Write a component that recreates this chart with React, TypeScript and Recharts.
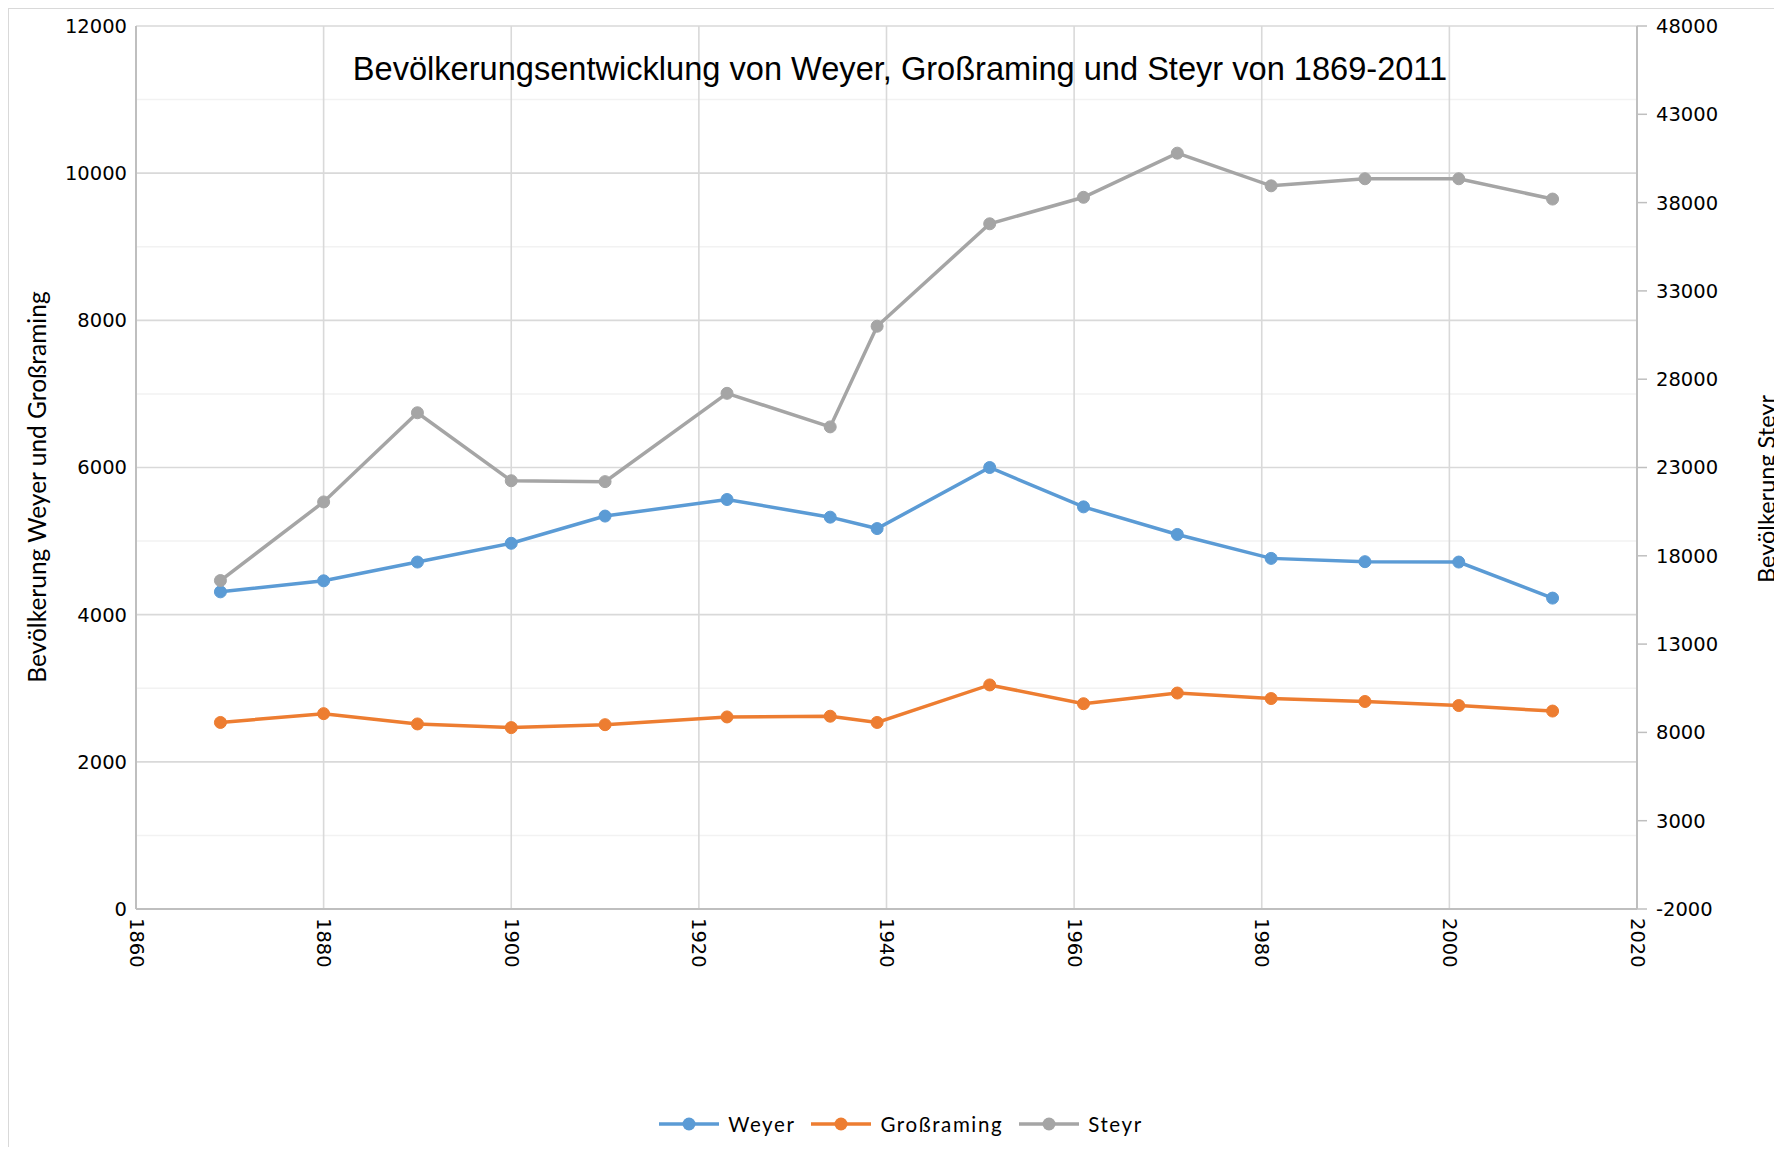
import React from 'react';
import {
  LineChart,
  Line,
  XAxis,
  YAxis,
  CartesianGrid,
  Legend,
} from 'recharts';

const years = [1869, 1880, 1890, 1900, 1910, 1923, 1934, 1939, 1951, 1961, 1971, 1981, 1991, 2001, 2011];
const weyer = [4310, 4460, 4715, 4970, 5340, 5565, 5325, 5170, 6000, 5465, 5090, 4765, 4720, 4715, 4225];
const grossraming = [2535, 2655, 2515, 2465, 2505, 2610, 2620, 2535, 3045, 2790, 2935, 2860, 2820, 2765, 2690];
const steyr = [16600, 21050, 26100, 22250, 22200, 27200, 25300, 31000, 36800, 38300, 40800, 38950, 39350, 39350, 38200];

const xTicks = [1860, 1880, 1900, 1920, 1940, 1960, 1980, 2000, 2020];
const leftTicks = [0, 2000, 4000, 6000, 8000, 10000, 12000];
const leftMinor = [1000, 3000, 5000, 7000, 9000, 11000];
const rightTicks = [-2000, 3000, 8000, 13000, 18000, 23000, 28000, 33000, 38000, 43000, 48000];
const xInner = [1880, 1900, 1920, 1940, 1960, 1980, 2000];

const titleText = 'Bevölkerungsentwicklung von Weyer, Großraming und Steyr von 1869-2011';
const leftTitle = 'Bevölkerung Weyer und Großraming';
const rightTitle = 'Bevölkerung Steyr';

const seriesDefs = [
  { key: 'weyer', name: 'Weyer', color: '#5b9bd5', axis: 'left' },
  { key: 'grossraming', name: 'Großraming', color: '#ed7d31', axis: 'left' },
  { key: 'steyr', name: 'Steyr', color: '#a5a5a5', axis: 'right' },
];

const data = years.map((year, i) => ({
  year,
  weyer: weyer[i],
  grossraming: grossraming[i],
  steyr: steyr[i],
}));

const W = 1772;
const H = 1138;
const TICK_FONT = '"DejaVu Sans", Verdana, sans-serif';
const LABEL_FONT = 'Lato, "Open Sans", sans-serif';
const TICK_SIZE = 19.5;

const XTick = (props: any) => {
  const { x, y, payload } = props;
  return (
    <text
      x={x}
      y={y}
      transform={`rotate(90, ${x}, ${y})`}
      textAnchor="start"
      dominantBaseline="central"
      fontSize={TICK_SIZE}
      fontFamily={TICK_FONT}
      fill="#000"
    >
      {payload.value}
    </text>
  );
};

const renderLegend = () => (
  <div
    style={{
      display: 'flex',
      justifyContent: 'center',
      alignItems: 'center',
      height: 36,
      paddingLeft: 12,
      fontFamily: LABEL_FONT,
      fontSize: 20.5,
      letterSpacing: 1.6,
      color: '#000',
    }}
  >
    {seriesDefs.map((s, i) => (
      <div key={s.key} style={{ display: 'flex', alignItems: 'center', marginLeft: i === 0 ? 0 : 16 }}>
        <svg width={60} height={14}>
          <line x1={0} y1={7} x2={60} y2={7} stroke={s.color} strokeWidth={3.5} />
          <circle cx={30} cy={7} r={6.5} fill={s.color} />
        </svg>
        <span style={{ marginLeft: 9 }}>{s.name}</span>
      </div>
    ))}
  </div>
);

export default function App() {
  return (
    <div
      style={{
        position: 'relative',
        width: W,
        height: H,
        borderLeft: '1px solid #d9d9d9',
        borderTop: '1px solid #d9d9d9',
        background: '#fff',
      }}
    >
      <LineChart width={W} height={H} data={data} margin={{ top: 17, right: 0, bottom: 5, left: 0 }}>
        <CartesianGrid
          yAxisId="left"
          horizontalValues={leftMinor}
          vertical={false}
          stroke="#f2f2f2"
          strokeWidth={1.5}
        />
        <CartesianGrid
          yAxisId="left"
          horizontalValues={leftTicks}
          verticalValues={xInner}
          stroke="#d9d9d9"
          strokeWidth={1.6}
        />
        <XAxis
          dataKey="year"
          type="number"
          domain={[1860, 2020]}
          ticks={xTicks}
          interval={0}
          height={197}
          tickLine={false}
          tickSize={0}
          tickMargin={9}
          axisLine={{ stroke: '#bfbfbf', strokeWidth: 2 }}
          tick={<XTick />}
        />
        <YAxis
          yAxisId="left"
          orientation="left"
          width={127}
          domain={[0, 12000]}
          ticks={leftTicks}
          interval={0}
          tickLine={false}
          tickSize={0}
          tickMargin={9}
          axisLine={{ stroke: '#bfbfbf', strokeWidth: 2 }}
          tick={{ fontSize: TICK_SIZE, fontFamily: TICK_FONT, fill: '#000' }}
        />
        <YAxis
          yAxisId="right"
          orientation="right"
          width={144}
          domain={[-2000, 48000]}
          ticks={rightTicks}
          interval={0}
          tickSize={10}
          tickMargin={9}
          tickLine={{ stroke: '#bfbfbf', strokeWidth: 1.5 }}
          axisLine={{ stroke: '#bfbfbf', strokeWidth: 2 }}
          tick={{ fontSize: TICK_SIZE, fontFamily: TICK_FONT, fill: '#000', textAnchor: 'start' }}
        />
        <Legend verticalAlign="bottom" align="center" content={renderLegend} />
        {seriesDefs.map((s) => (
          <Line
            key={s.key}
            yAxisId={s.axis}
            type="linear"
            dataKey={s.key}
            name={s.name}
            stroke={s.color}
            strokeWidth={3.5}
            dot={{ r: 6, fill: s.color, stroke: s.color, strokeWidth: 1 }}
            activeDot={false}
            isAnimationActive={false}
          />
        ))}
      </LineChart>
      <svg
        width={W}
        height={H}
        style={{ position: 'absolute', left: 0, top: 0, pointerEvents: 'none', overflow: 'visible' }}
      >
        <text
          x={891}
          y={71}
          textAnchor="middle"
          fontFamily='"Liberation Sans", Arial, sans-serif'
          fontSize={32.6}
          fill="#000"
        >
          {titleText}
        </text>
        <text
          x={27}
          y={478}
          transform="rotate(-90, 27, 478)"
          textAnchor="middle"
          dominantBaseline="central"
          fontFamily={LABEL_FONT}
          fontSize={24.5}
          fill="#000"
        >
          {leftTitle}
        </text>
        <text
          x={1757}
          y={480}
          transform="rotate(-90, 1757, 480)"
          textAnchor="middle"
          dominantBaseline="central"
          fontFamily={LABEL_FONT}
          fontSize={23.5}
          fill="#000"
        >
          {rightTitle}
        </text>
      </svg>
    </div>
  );
}
